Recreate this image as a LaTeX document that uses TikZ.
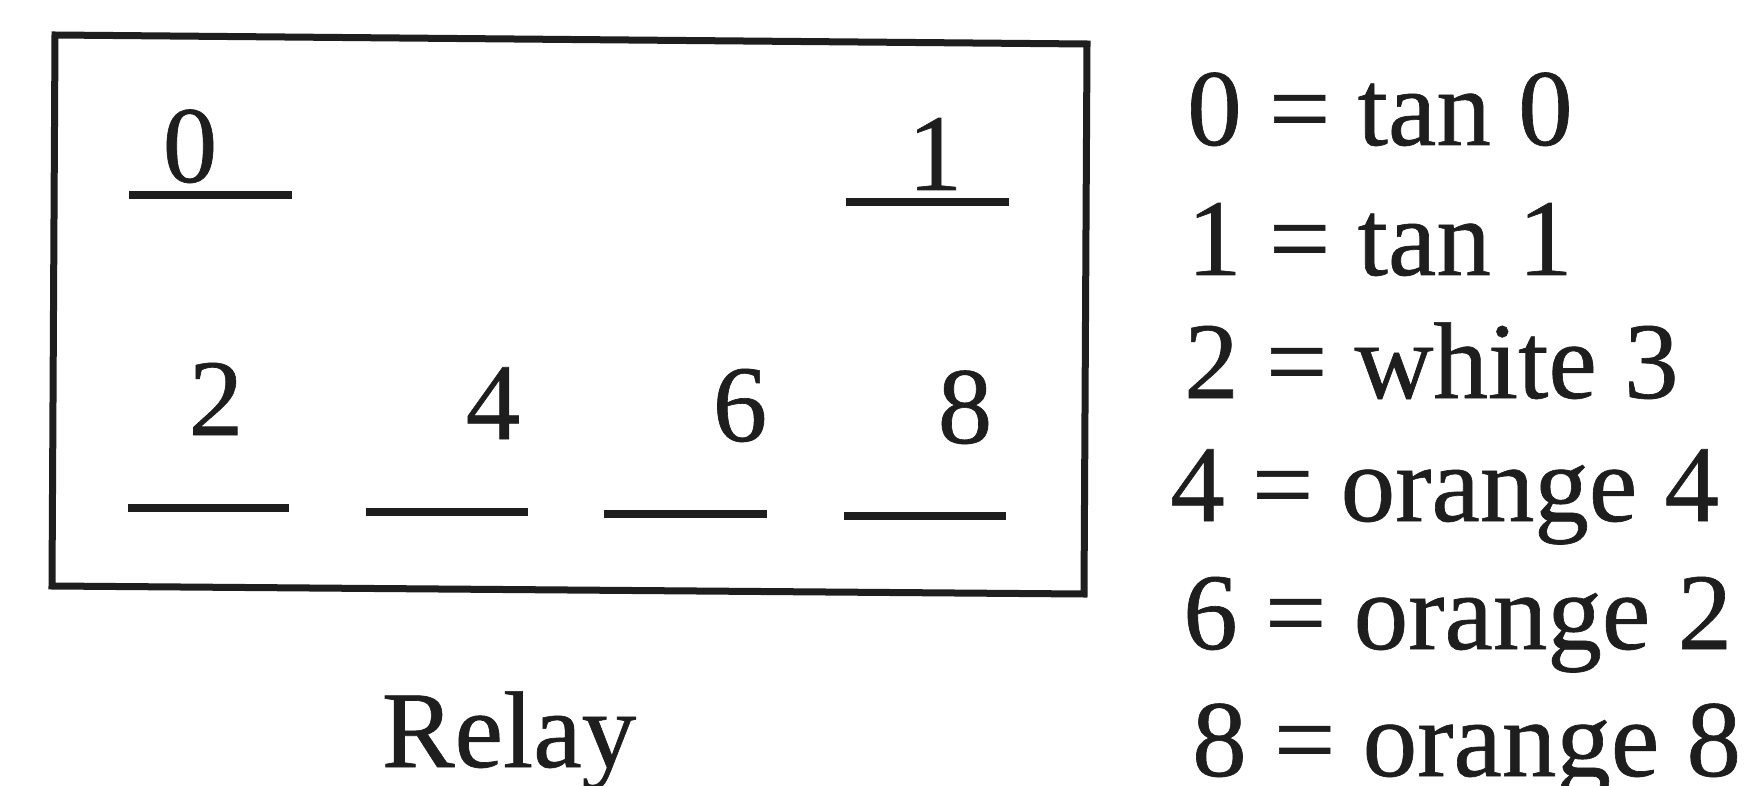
\documentclass[tikz,border=0pt]{standalone}
\usepackage{fontspec}
\setmainfont{Liberation Serif}[FakeBold=0.6]
\definecolor{ink}{RGB}{30,30,30}
\begin{document}
\begin{tikzpicture}[x=1pt,y=-1pt,
  lbl/.style={text=ink,inner sep=0pt,anchor=base,font=\fontsize{109}{120}\selectfont},
  leg/.style={text=ink,inner sep=0pt,anchor=base west,font=\fontsize{109}{120}\selectfont},
  bar/.style={draw=ink,line width=8pt},
  frame/.style={draw=ink,line width=7pt,line join=miter}]
\useasboundingbox[fill=white] (0,0) rectangle (1753,786);
% relay box (slightly tilted, as scanned)
\coordinate (tl) at (55,35);
\coordinate (tr) at (1087,44);
\coordinate (br) at (1084,594);
\coordinate (bl) at (52,586);
\draw[frame] (tl) -- (tr) -- (br) -- (bl) -- cycle;
% terminal labels
\node[lbl] (t0) at (190,182) {0};
\node[lbl] (t1) at (935,190) {1};
\node[lbl] (t2) at (216,435) {2};
\node[lbl] (t4) at (493,439) {4};
\node[lbl] (t6) at (740,441) {6};
\node[lbl] (t8) at (965,443) {8};
% terminal bars
\draw[bar] (129,195) -- (292,195);
\draw[bar] (846,202) -- (1009,202);
\draw[bar] (128,508) -- (289,508);
\draw[bar] (366,512) -- (528,512);
\draw[bar] (604,514) -- (767,514);
\draw[bar] (844,516) -- (1006,516);
% caption
\node[lbl] (cap) at (509,767) {Relay};
% legend
\node[leg] (l0) at (1187,145) {0 = tan 0};
\node[leg] (l1) at (1187,275) {1 = tan 1};
\node[leg] (l2) at (1184,398) {2 = white 3};
\node[leg] (l3) at (1170,521) {4 = orange 4};
\node[leg] (l4) at (1183,649) {6 = orange 2};
\node[leg] (l5) at (1192,776) {8 = orange 8};
\end{tikzpicture}
\end{document}
